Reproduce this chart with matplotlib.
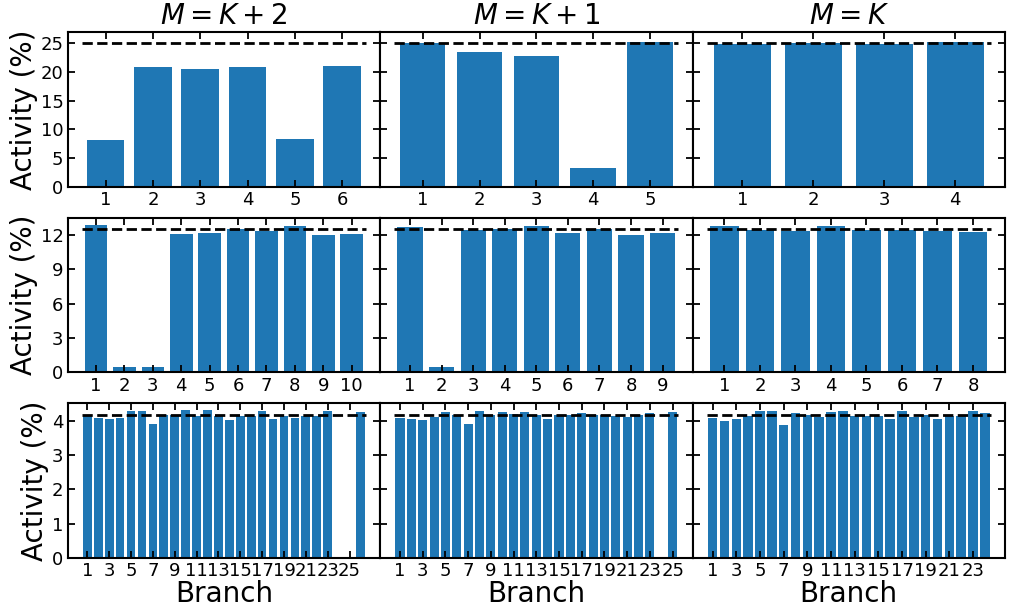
import numpy as np
import matplotlib.pyplot as plt
from matplotlib.ticker import MultipleLocator

# branch activity (%) for K = 4, 8, 24 active branches; columns are M = K+2, K+1, K
K_values = [4, 8, 24]
titles = ["$M=K+2$", "$M=K+1$", "$M=K$"]

act_k4_m6 = [8.2, 20.9, 20.6, 20.9, 8.4, 21.0]
act_k4_m5 = [25.1, 23.6, 22.8, 3.3, 25.2]
act_k4_m4 = [24.9, 25.0, 24.9, 25.2]

act_k8_m10 = [12.9, 0.5, 0.5, 12.1, 12.2, 12.5, 12.3, 12.8, 12.0, 12.1]
act_k8_m9 = [12.7, 0.5, 12.4, 12.5, 12.8, 12.2, 12.5, 12.0, 12.2]
act_k8_m8 = [12.8, 12.4, 12.35, 12.75, 12.4, 12.45, 12.3, 12.25]

act_k24_m26 = [4.13, 4.07, 4.05, 4.06, 4.29, 4.28, 3.90, 4.17, 4.15, 4.30,
               4.14, 4.30, 4.13, 4.02, 4.13, 4.14, 4.28, 4.04, 4.13, 4.06,
               4.13, 4.13, 4.27, 0.0, 0.0, 4.26]
act_k24_m25 = [4.08, 4.05, 4.02, 4.10, 4.24, 4.15, 3.90, 4.27, 4.15, 4.24,
               4.18, 4.26, 4.15, 4.05, 4.15, 4.15, 4.22, 4.15, 4.15, 4.12,
               4.11, 4.15, 4.21, 0.03, 4.24]
act_k24_m24 = [4.06, 4.00, 4.05, 4.12, 4.27, 4.28, 3.87, 4.22, 4.16, 4.10,
               4.24, 4.28, 4.12, 4.13, 4.12, 4.04, 4.28, 4.10, 4.16, 4.04,
               4.13, 4.13, 4.28, 4.22]

activity = [[act_k4_m6, act_k4_m5, act_k4_m4],
            [act_k8_m10, act_k8_m9, act_k8_m8],
            [act_k24_m26, act_k24_m25, act_k24_m24]]
ytick_steps = [5, 3, 1]
xtick_steps = [1, 1, 2]

fig, axes = plt.subplots(3, 3, figsize=(10.1, 6.16), dpi=100, sharey='row')
plt.subplots_adjust(left=0.067, right=0.995, top=0.948, bottom=0.094,
                    wspace=0, hspace=0.2)

for r in range(3):
    K = K_values[r]
    target = 100.0 / K
    for c in range(3):
        ax = axes[r, c]
        vals = activity[r][c]
        M = len(vals)
        branches = np.arange(1, M + 1)
        ax.bar(branches, vals, width=0.8, color='#1f77b4', zorder=1)
        ax.plot([0.5, M + 0.5], [target, target], 'k--', lw=2, zorder=3)
        ax.set_ylim(0, 1.08 * target)
        ax.set_xticks(np.arange(1, M + 1, xtick_steps[r]))
        ax.yaxis.set_major_locator(MultipleLocator(ytick_steps[r]))
        ax.tick_params(direction='in', top=True, right=True, length=5,
                       width=1.3, labelsize=13, pad=3)
        for s in ax.spines.values():
            s.set_linewidth(1.5)
        if r == 0:
            ax.set_title(titles[c], fontsize=20)
        if c == 0:
            ax.set_ylabel("Activity (%)", fontsize=20, labelpad=2)
        if r == 2:
            ax.set_xlabel("Branch", fontsize=20, labelpad=0)

plt.savefig("out.png", dpi=100)
